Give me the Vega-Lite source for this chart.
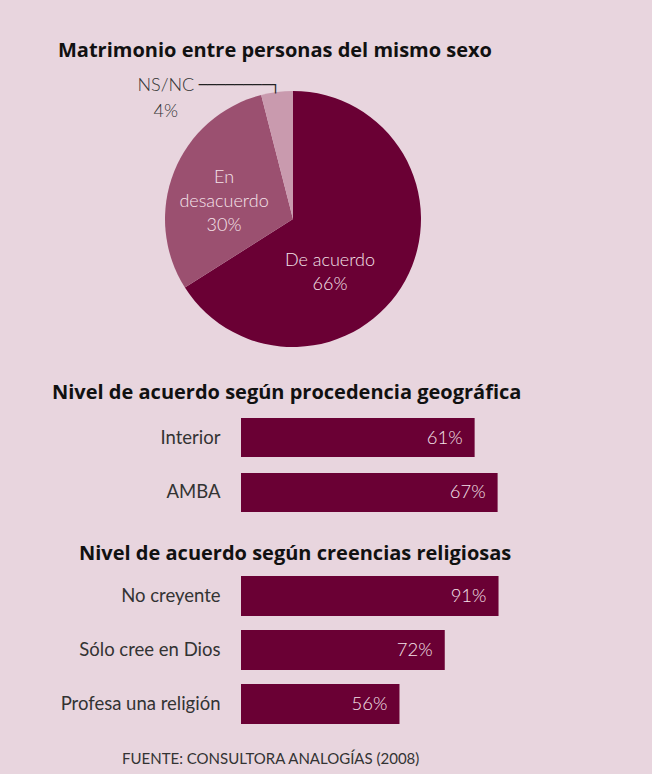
{
  "$schema": "https://vega.github.io/schema/vega-lite/v6.json",
  "background": "#e8d5de",
  "padding": {"left": 52, "top": 41, "right": 28, "bottom": 7},
  "config": {"view": {"stroke": null}, "font": "Lato"},
  "spacing": 32,
  "title": {"text": "FUENTE: CONSULTORA ANALOGÍAS (2008)", "orient": "bottom", "anchor": "start", "frame": "group", "font": "Lato", "fontSize": 15, "fontWeight": 400, "color": "#333333", "baseline": "top", "offset": 28, "dx": -119},
  "vconcat": [
    {
      "width": 104,
      "height": 264,
      "title": {"text": "Matrimonio entre personas del mismo sexo", "anchor": "start", "frame": "group", "dx": -183, "font": "Open Sans", "fontSize": 20, "fontWeight": 700, "color": "#111111", "baseline": "alphabetic", "offset": 0},
      "data": {"values": [
        {"respuesta": "De acuerdo", "pct": 0.66, "orden": 1, "etiqueta": "De acuerdo\n66%"},
        {"respuesta": "En desacuerdo", "pct": 0.30, "orden": 2, "etiqueta": "En\ndesacuerdo\n30%"},
        {"respuesta": "NS/NC", "pct": 0.04, "orden": 3, "etiqueta": "NS/NC\n4%"}
      ]},
      "encoding": {
        "theta": {"field": "pct", "type": "quantitative", "stack": true},
        "order": {"field": "orden", "type": "quantitative"}
      },
      "layer": [
        {
          "mark": {"type": "arc", "outerRadius": 128},
          "encoding": {
            "color": {"field": "respuesta", "type": "nominal", "legend": null,
              "scale": {"domain": ["De acuerdo", "En desacuerdo", "NS/NC"], "range": ["#6a0034", "#9b5070", "#c99aae"]}}
          }
        },
        {
          "mark": {"type": "text", "radius": 57, "dx": -13, "dy": 15, "lineBreak": "\n", "lineHeight": 24, "fontSize": 18, "fontWeight": 300, "color": "#f5e3ea"},
          "encoding": {"text": {"condition": {"test": "datum.respuesta === 'De acuerdo'", "field": "etiqueta", "type": "nominal"}, "value": ""}}
        },
        {
          "mark": {"type": "text", "radius": 72, "dx": -2, "dy": -14, "lineBreak": "\n", "lineHeight": 24, "fontSize": 18, "fontWeight": 300, "color": "#f5e3ea"},
          "encoding": {"text": {"condition": {"test": "datum.respuesta === 'En desacuerdo'", "field": "etiqueta", "type": "nominal"}, "value": ""}}
        },
        {
          "mark": {"type": "text", "radius": 137, "dx": -110, "dy": 3, "lineBreak": "\n", "lineHeight": 26, "fontSize": 18, "fontWeight": 300, "color": "#333333"},
          "encoding": {"text": {"condition": {"test": "datum.respuesta === 'NS/NC'", "field": "etiqueta", "type": "nominal"}, "value": ""}}
        },
        {
          "mark": {"type": "text", "radius": 137, "dx": -36.5, "dy": 2, "font": "DejaVu Sans", "fontSize": 15, "color": "#222222"},
          "encoding": {"text": {"condition": {"test": "datum.respuesta === 'NS/NC'", "value": "────────┐"}, "value": ""}}
        }
      ]
    },
    {
      "width": 383,
      "height": 94,
      "title": {"text": "Nivel de acuerdo según procedencia geográfica", "anchor": "start", "frame": "group", "dx": -189, "font": "Open Sans", "fontSize": 20, "fontWeight": 700, "color": "#111111", "baseline": "alphabetic", "offset": -1},
      "data": {"values": [
        {"grupo": "Interior", "pct": 0.61},
        {"grupo": "AMBA", "pct": 0.67}
      ]},
      "encoding": {
        "y": {"field": "grupo", "type": "nominal", "sort": null, "scale": {"paddingInner": 0.29, "paddingOuter": 0},
          "axis": {"title": null, "domain": false, "ticks": false, "labelFont": "Lato", "labelFontSize": 18.5, "labelFontWeight": 400, "labelColor": "#333333", "labelPadding": 21}},
        "x": {"field": "pct", "type": "quantitative", "scale": {"domain": [0, 1]}, "axis": null}
      },
      "layer": [
        {"mark": {"type": "bar", "color": "#6a0034"}},
        {"mark": {"type": "text", "align": "right", "dx": -12, "fontSize": 18.5, "fontWeight": 300, "color": "#f5e3ea"},
          "encoding": {"text": {"field": "pct", "type": "quantitative", "format": ".0%"}}}
      ]
    },
    {
      "width": 283,
      "height": 148,
      "title": {"text": "Nivel de acuerdo según creencias religiosas", "anchor": "start", "frame": "group", "dx": -162, "font": "Open Sans", "fontSize": 20, "fontWeight": 700, "color": "#111111", "baseline": "alphabetic", "offset": -4},
      "data": {"values": [
        {"grupo": "No creyente", "pct": 0.91},
        {"grupo": "Sólo cree en Dios", "pct": 0.72},
        {"grupo": "Profesa una religión", "pct": 0.56}
      ]},
      "encoding": {
        "y": {"field": "grupo", "type": "nominal", "sort": null, "scale": {"paddingInner": 0.26, "paddingOuter": 0},
          "axis": {"title": null, "domain": false, "ticks": false, "labelFont": "Lato", "labelFontSize": 18.5, "labelFontWeight": 400, "labelColor": "#333333", "labelPadding": 21}},
        "x": {"field": "pct", "type": "quantitative", "scale": {"domain": [0, 1]}, "axis": null}
      },
      "layer": [
        {"mark": {"type": "bar", "color": "#6a0034"}},
        {"mark": {"type": "text", "align": "right", "dx": -12, "fontSize": 18.5, "fontWeight": 300, "color": "#f5e3ea"},
          "encoding": {"text": {"field": "pct", "type": "quantitative", "format": ".0%"}}}
      ]
    }
  ]
}
